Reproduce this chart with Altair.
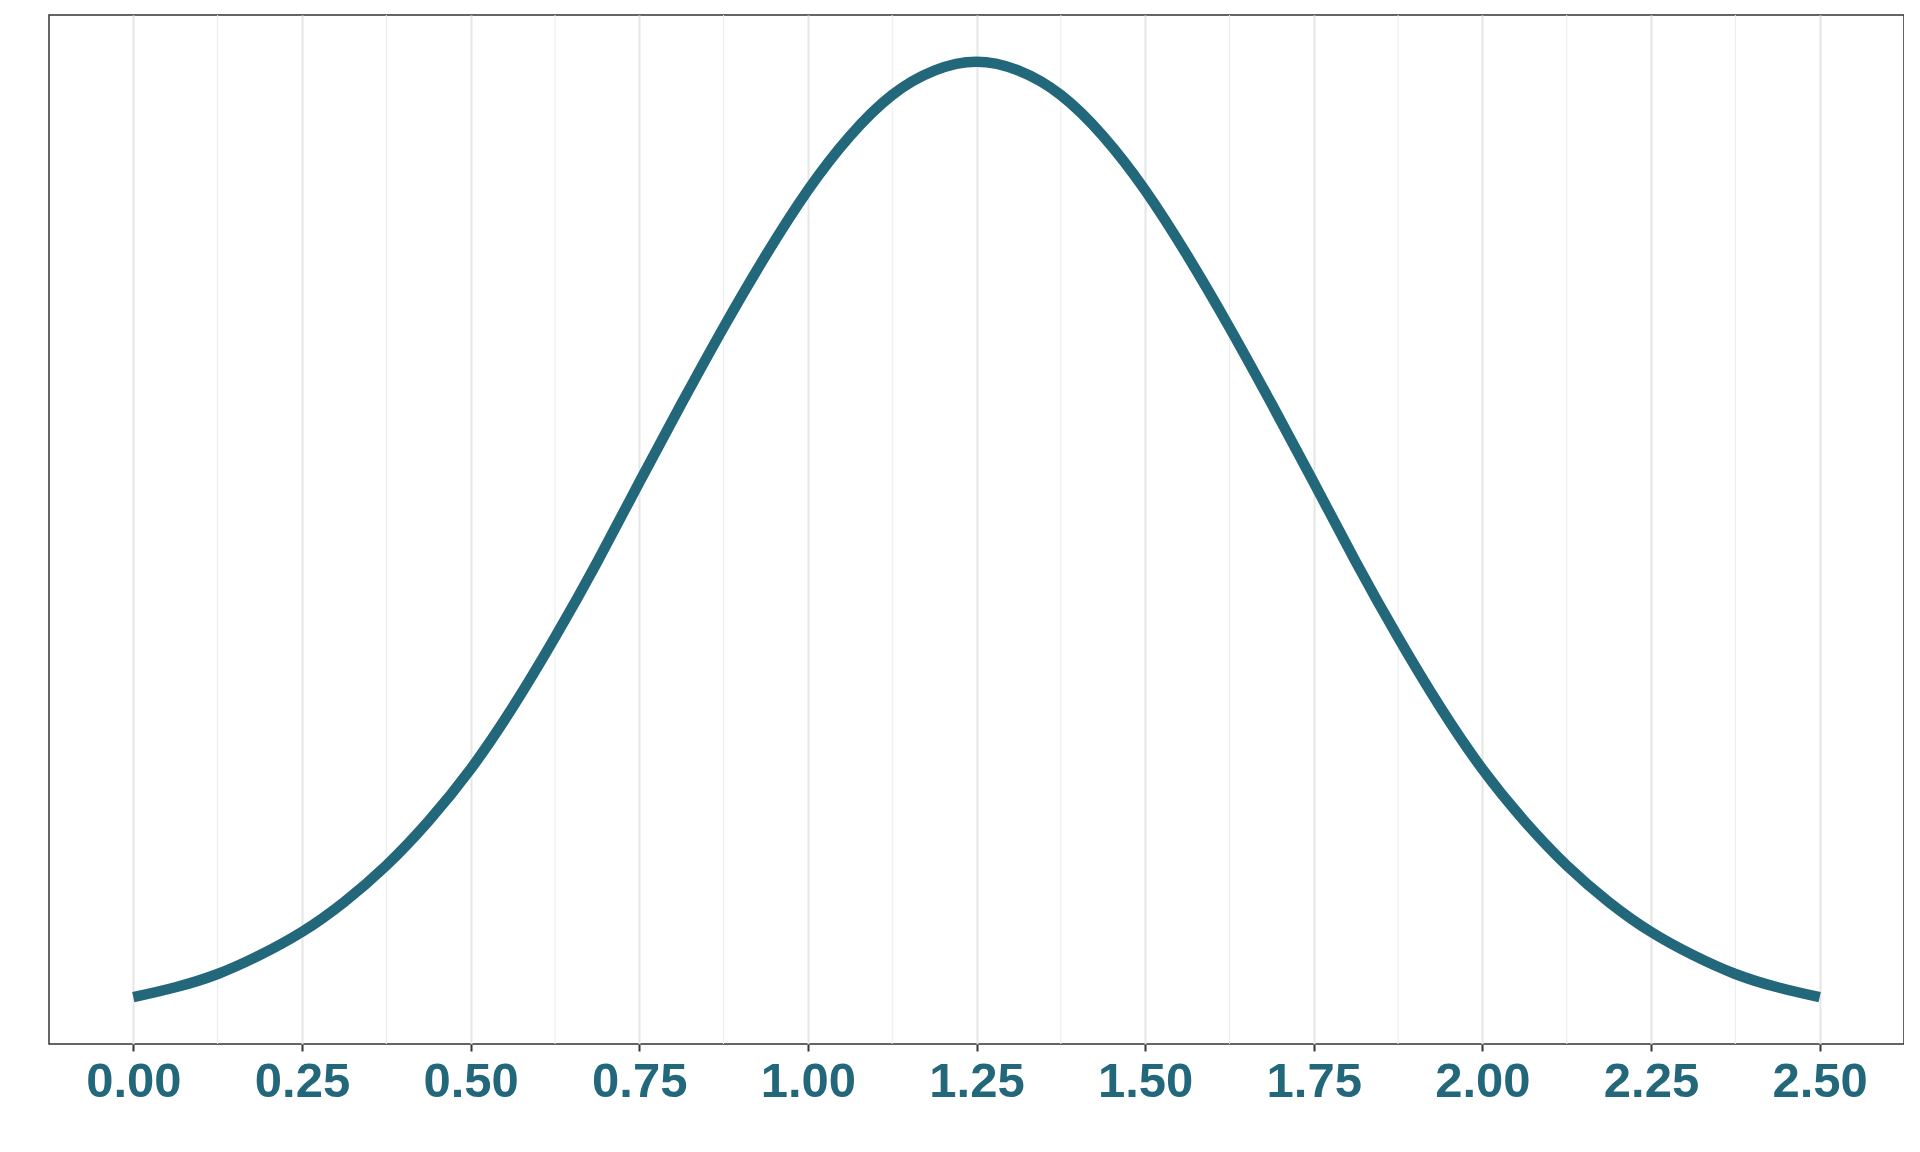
import altair as alt
import pandas as pd

# Curve (x, height of the curve)
x_vals = [0.0, 0.0625, 0.125, 0.1875, 0.25, 0.3125, 0.375, 0.4375, 0.5, 0.5625,
          0.625, 0.6875, 0.75, 0.8125, 0.875, 0.9375, 1.0, 1.0625, 1.125, 1.1875,
          1.25, 1.3125, 1.375, 1.4375, 1.5, 1.5625, 1.625, 1.6875, 1.75, 1.8125,
          1.875, 1.9375, 2.0, 2.0625, 2.125, 2.1875, 2.25, 2.3125, 2.375, 2.4375, 2.5]
y_vals = [0.022, 0.031, 0.043, 0.060, 0.081, 0.108, 0.141, 0.181, 0.228, 0.284,
          0.347, 0.415, 0.487, 0.558, 0.627, 0.692, 0.751, 0.800, 0.837, 0.859,
          0.867, 0.859, 0.837, 0.800, 0.751, 0.692, 0.627, 0.558, 0.487, 0.415,
          0.347, 0.284, 0.228, 0.181, 0.141, 0.108, 0.081, 0.060, 0.043, 0.031, 0.022]

major_breaks = [0.0, 0.25, 0.5, 0.75, 1.0, 1.25, 1.5, 1.75, 2.0, 2.25, 2.5]
tick_labels = ["0.00", "0.25", "0.50", "0.75", "1.00", "1.25", "1.50", "1.75", "2.00", "2.25", "2.50"]
minor_breaks = [0.125, 0.375, 0.625, 0.875, 1.125, 1.375, 1.625, 1.875, 2.125, 2.375]

curve = pd.DataFrame({"x": x_vals, "y": y_vals})
minor = pd.DataFrame({"x": minor_breaks})

x_min, x_max = min(x_vals), max(x_vals)
x_pad = 0.05 * (x_max - x_min)
y_min, y_max = min(y_vals), max(y_vals)
y_pad = 0.05 * (y_max - y_min)

W, H = 1855, 1029
TEAL = "#22677A"

x_scale = alt.Scale(domain=[x_min - x_pad, x_max + x_pad], nice=False, zero=False)
y_scale = alt.Scale(domain=[y_min - y_pad, y_max + y_pad], nice=False, zero=False)

label_expr = "[" + ",".join(f"'{t}'" for t in tick_labels) + "][round(datum.value*4)]"

minor_rules = alt.Chart(minor).mark_rule(color="#EBEBEB", strokeWidth=1).encode(
    x=alt.X("x:Q", scale=x_scale),
    y=alt.value(0),
    y2=alt.value(H),
)

line = alt.Chart(curve).mark_line(color=TEAL, strokeWidth=10.5, interpolate="natural").encode(
    x=alt.X(
        "x:Q",
        scale=x_scale,
        title=None,
        axis=alt.Axis(
            values=major_breaks,
            labelExpr=label_expr,
            grid=True,
            gridColor="#E5E5E5",
            gridWidth=2,
            domain=False,
            ticks=True,
            tickColor="#333333",
            tickWidth=2,
            tickSize=7,
            labelFont="Liberation Sans",
            labelFontWeight="bold",
            labelFontSize=49,
            labelColor=TEAL,
            labelPadding=6,
            labelFlush=False,
            labelOverlap=False,
        ),
    ),
    y=alt.Y("y:Q", scale=y_scale, axis=None),
)

chart = alt.layer(minor_rules, line).properties(
    width=W,
    height=H,
    autosize=alt.AutoSizeParams(type="none"),
    padding={"left": 41, "top": 7, "right": 0, "bottom": 100},
    background="white",
).configure_view(stroke="#333333", strokeWidth=1.5)

chart.save("out.html", embed_options={"renderer": "svg", "actions": False})
